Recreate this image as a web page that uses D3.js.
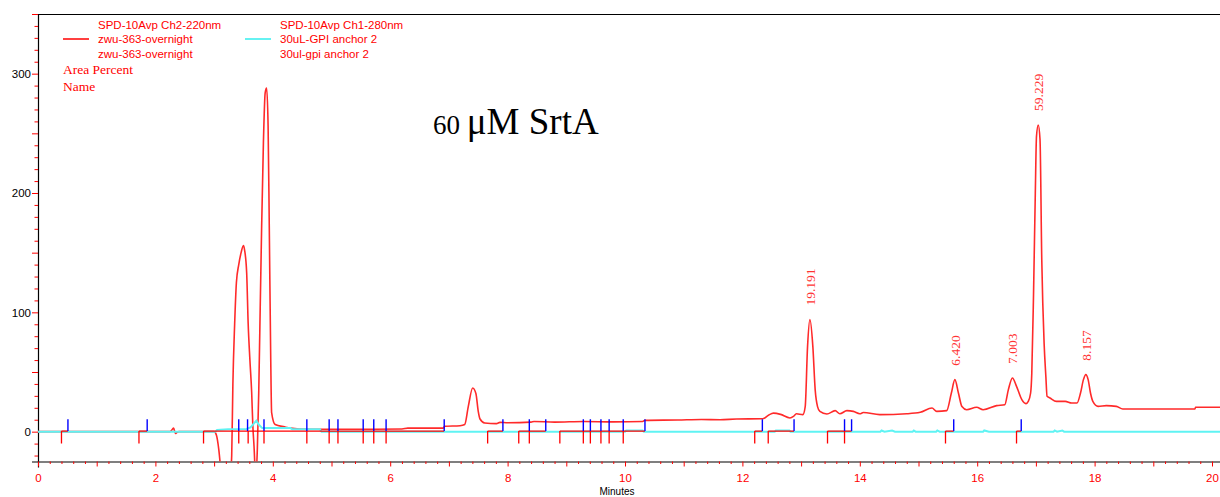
<!DOCTYPE html>
<html>
<head>
<meta charset="utf-8">
<script src="https://cdn.jsdelivr.net/npm/d3@7/dist/d3.min.js"></script>
<style>
  html, body { margin: 0; padding: 0; background: #fff; }
  svg { display: block; }
</style>
</head>
<body>
<svg id="chart" width="1220" height="497"></svg>
<script>
// ---------- DATA ----------
// Ch2-220nm trace (red): time (min) and response (mAU)
const redTime = [0, 2.25, 2.29, 2.31, 2.34, 2.37, 2.40, 3.00, 3.04, 3.08, 3.12, 3.20, 3.28, 3.30, 3.32, 3.35, 3.38, 3.42, 3.46, 3.50, 3.52, 3.555, 3.58, 3.61, 3.64, 3.66, 3.68, 3.71, 3.737, 3.76, 3.78, 3.81, 3.84, 3.87, 3.895, 3.92, 3.94, 3.965, 3.98, 4.04, 4.20, 4.30, 4.60, 5.00, 5.50, 6.20, 6.30, 6.90, 6.93, 7.19, 7.27, 7.33, 7.405, 7.46, 7.50, 7.53, 7.61, 7.81, 7.87, 8.00, 8.40, 8.45, 8.80, 9.30, 9.80, 10.30, 10.34, 10.90, 11.30, 11.62, 11.90, 12.33, 12.36, 12.45, 12.53, 12.65, 12.81, 12.87, 12.92, 13.03, 13.07, 13.11, 13.15, 13.20, 13.24, 13.28, 13.32, 13.44, 13.58, 13.66, 13.78, 13.89, 14.00, 14.06, 14.34, 14.80, 15.03, 15.23, 15.31, 15.48, 15.56, 15.62, 15.68, 15.74, 15.82, 15.99, 16.10, 16.33, 16.47, 16.53, 16.60, 16.67, 16.76, 16.83, 16.87, 16.91, 16.93, 16.96, 16.99, 17.01, 17.04, 17.07, 17.10, 17.14, 17.17, 17.19, 17.24, 17.35, 17.50, 17.61, 17.70, 17.76, 17.81, 17.85, 17.89, 17.93, 17.97, 18.06, 18.20, 18.37, 18.48, 19.71, 19.72, 20.2];
const redValue = [0, 0, 2, 3, -1.5, -0.5, 0, 0, -3, -15, -35, -60, -35, -20, 40, 90, 125, 140, 150, 156, 152, 133, 91, 60, 33, 5, -12, -40, -14, 32, 88, 172, 242, 284, 288, 256, 172, 60, 16, 6, 4, 3, 2, 2, 2, 2.2, 3, 3, 4.5, 5, 6, 21, 36.6, 32, 17, 10.6, 7.3, 6.7, 7.8, 7.5, 8, 8.5, 8, 8.5, 8.2, 8.5, 9.5, 9.8, 10.2, 10, 10.6, 10.8, 11, 14, 15.5, 14.5, 11.5, 12.8, 15, 14.3, 21, 71.5, 93.9, 71.5, 35, 21, 17, 14.8, 17.6, 15, 17.6, 17, 15, 16, 14.3, 15, 16.2, 19.8, 17, 17.6, 32.4, 43.6, 32.4, 21, 18.4, 20.4, 18.4, 21.8, 22.6, 35, 45, 38, 26.8, 23.5, 25.4, 32.4, 49, 116, 200, 247.5, 257, 245, 144, 74, 46, 29.6, 28.2, 25.4, 25.4, 24, 24, 32.4, 43.6, 47.8, 43.6, 32.4, 25.4, 21.2, 21.8, 21.2, 19, 19, 20.4, 20.4];

// Ch1-280nm trace (cyan)
const cyanTime = [0, 3.02, 3.05, 3.24, 3.55, 3.62, 3.68, 3.72, 3.76, 3.82, 4.30, 4.33, 4.80, 4.83, 10.0, 10.02, 10.3, 10.32, 12.55, 12.57, 12.8, 12.82, 14.35, 14.37, 14.42, 14.55, 14.6, 14.9, 14.92, 14.95, 15.3, 15.32, 15.36, 16.1, 16.12, 16.2, 17.3, 17.32, 17.36, 17.45, 17.48, 20.2];
const cyanValue = [0, 0, 1.5, 2, 2.3, 3.5, 7, 9.2, 6, 3, 3, 2, 2, 0, 0, 1, 1, 0, 0, 1, 1, 0, 0, 1, 0, 1, 0, 0, 1, 0, 0, 1, 0, 0, 1, 0, 0, 1, 0, 1, 0, 0];

// Integration marks
const peakStartTimes = [0.40, 1.72, 2.82, 3.42, 3.58, 3.85, 4.58, 4.96, 5.11, 5.54, 5.72, 5.93, 7.66, 8.19, 8.37, 8.89, 9.29, 9.41, 9.59, 9.73, 9.97, 12.21, 12.44, 13.45, 13.74, 15.46, 16.67];
const peakEndTimes = [0.51, 1.86, 3.42, 3.57, 3.85, 4.58, 4.96, 5.11, 5.54, 5.72, 5.93, 6.92, 7.92, 8.37, 8.65, 9.29, 9.41, 9.59, 9.73, 9.97, 10.34, 12.34, 12.88, 13.74, 13.86, 15.60, 16.75];
const baselineStart = [0.40, 1.72, 2.82, 7.66, 8.19, 8.89, 12.21, 12.44, 13.45, 15.46, 16.67];
const baselineEnd   = [0.51, 1.86, 6.92, 7.92, 8.65, 10.34, 12.34, 12.88, 13.86, 15.60, 16.75];

// Peak annotations (area percent)
const labelTimes  = [13.15, 15.62, 16.60, 17.04, 17.85];
const labelApex   = [93.9, 43.6, 45, 257, 47.8];
const labelTexts  = ["19.191", "6.420", "7.003", "59.229", "8.157"];

// Axis ticks
const xLabelTicks = [0, 2, 4, 6, 8, 10, 12, 14, 16, 18, 20];
const yLabelTicks = [0, 100, 200, 300];

// Legend
const legendTitles = ["SPD-10Avp Ch2-220nm", "SPD-10Avp Ch1-280nm"];
const legendLine1  = ["zwu-363-overnight", "30uL-GPI anchor 2"];
const legendLine2  = ["zwu-363-overnight", "30ul-gpi anchor 2"];
const legendColors = ["#ff0000", "#33eeee"];
const extraLegend  = ["Area Percent", "Name"];

// ---------- CHART ----------
const svg = d3.select("#chart");
const sans = "'Liberation Sans', Arial, sans-serif";
const serif = "'Liberation Serif', 'Times New Roman', serif";

const x = d3.scaleLinear().domain([0, 20.2]).range([38, 38 + 20.2 * 58.7]);
const y = d3.scaleLinear().domain([-25, 350]).range([461.5, 14]);

svg.append("defs").append("clipPath").attr("id", "plotclip")
  .append("rect").attr("x", 38).attr("y", 14).attr("width", 1220 - 38).attr("height", 461.5 - 14);

// top border
svg.append("line").attr("x1", 38).attr("x2", 1220).attr("y1", 14.5).attr("y2", 14.5)
  .attr("stroke", "#000").attr("stroke-width", 1);

// Y axis
const yTicks = d3.range(-20, 351, 10);
const yAxis = d3.axisLeft(y).tickValues(yTicks).tickSizeOuter(0)
  .tickSize(6).tickPadding(3)
  .tickFormat(d => yLabelTicks.includes(d) ? String(d) : "");
const gy = svg.append("g").attr("transform", "translate(38,0)").call(yAxis);
gy.select(".domain").attr("stroke", "#000").attr("stroke-width", 1.2);
gy.selectAll(".tick line").attr("stroke", "#ff0000")
  .attr("x2", d => (d % 50 === 0) ? -6 : -3.5);
gy.selectAll(".tick text").attr("fill", "#000").attr("font-family", sans).attr("font-size", 11.5)
  .attr("x", -7);

// X axis
const xTicks = d3.range(0, 101).map(i => +(i * 0.2).toFixed(1));
const xAxis = d3.axisBottom(x).tickValues(xTicks).tickSizeOuter(0).tickSize(6).tickPadding(6)
  .tickFormat(d => xLabelTicks.includes(d) ? String(d) : "");
const gx = svg.append("g").attr("transform", "translate(0,461.5)").call(xAxis);
gx.select(".domain").attr("stroke", "#000").attr("stroke-width", 1.2);
gx.selectAll(".tick line").attr("stroke", "#ff0000")
  .attr("y2", d => Math.abs(d - Math.round(d)) < 1e-6 ? 5 : 2.5);
gx.selectAll(".tick text").attr("fill", "#ff0000").attr("font-family", sans).attr("font-size", 11.5);

svg.append("text").attr("x", 617).attr("y", 495).attr("text-anchor", "middle")
  .attr("font-family", sans).attr("font-size", 10).attr("fill", "#000").text("Minutes");

// Traces
const plot = svg.append("g").attr("clip-path", "url(#plotclip)");
const line = d3.line().x(d => x(d[0])).y(d => y(d[1])).curve(d3.curveMonotoneX);

plot.append("path").datum(redTime.map((t, i) => [t, redValue[i]]))
  .attr("d", line).attr("fill", "none").attr("stroke", "#ff2a2a")
  .attr("stroke-width", 1.6).attr("stroke-linejoin", "round");

plot.append("path").datum(cyanTime.map((t, i) => [t, cyanValue[i]]))
  .attr("d", d3.line().x(d => x(d[0])).y(d => y(d[1])))
  .attr("fill", "none").attr("stroke", "#5ff3f3")
  .attr("stroke-width", 2);

// Integration baselines
plot.selectAll(".baseline").data(baselineStart).join("line").attr("class", "baseline")
  .attr("x1", d => x(d)).attr("x2", (d, i) => x(baselineEnd[i]))
  .attr("y1", y(0.5)).attr("y2", y(0.5))
  .attr("stroke", "#ff0000").attr("stroke-width", 1.3);

plot.selectAll(".startmark").data(peakStartTimes).join("line").attr("class", "startmark")
  .attr("x1", d => x(d)).attr("x2", d => x(d))
  .attr("y1", y(0.5)).attr("y2", y(-10))
  .attr("stroke", "#ff0000").attr("stroke-width", 1.3);

plot.selectAll(".endmark").data(peakEndTimes).join("line").attr("class", "endmark")
  .attr("x1", d => x(d)).attr("x2", d => x(d))
  .attr("y1", y(0.5)).attr("y2", y(10.5))
  .attr("stroke", "#0000ff").attr("stroke-width", 1.4);

// Peak labels
svg.selectAll(".plabel").data(labelTexts).join("text").attr("class", "plabel")
  .attr("transform", (d, i) => `translate(${x(labelTimes[i])},${y(labelApex[i]) - 14}) rotate(-90)`)
  .attr("dy", "0.35em")
  .attr("font-family", serif).attr("font-size", 13.5).attr("fill", "#ff3333")
  .text(d => d);

// Legend
const legX = [98, 280];
const lineX = [63, 245];
legendTitles.forEach((t, i) => {
  const g = svg.append("g").attr("font-family", sans).attr("font-size", 11.5).attr("fill", "#ff0000");
  g.append("text").attr("x", legX[i]).attr("y", 28.5).text(t);
  g.append("text").attr("x", legX[i]).attr("y", 43).text(legendLine1[i]);
  g.append("text").attr("x", legX[i]).attr("y", 57.5).text(legendLine2[i]);
  svg.append("line").attr("x1", lineX[i]).attr("x2", lineX[i] + 26).attr("y1", 39).attr("y2", 39)
    .attr("stroke", legendColors[i]).attr("stroke-width", 1.5);
});
extraLegend.forEach((t, i) => {
  svg.append("text").attr("x", 63).attr("y", 74 + i * 16.5)
    .attr("font-family", serif).attr("font-size", 13.5).attr("fill", "#ff0000").text(t);
});

// Title annotation
const title = svg.append("text").attr("x", 433).attr("y", 134)
  .attr("font-family", serif).attr("fill", "#000");
title.append("tspan").attr("font-size", 27).text("60 ");
title.append("tspan").attr("font-size", 37).text("\u03bcM SrtA");
</script>
</body>
</html>
